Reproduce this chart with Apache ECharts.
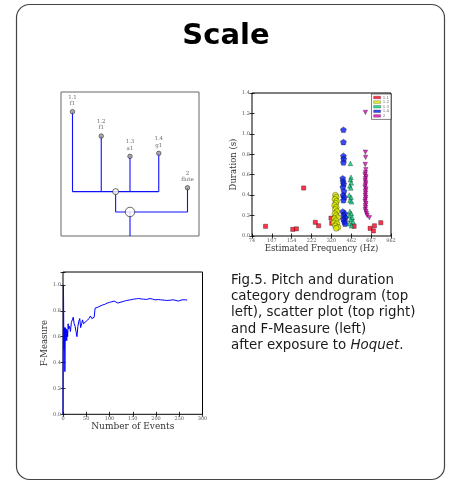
<!DOCTYPE html>
<html><head><meta charset="utf-8">
<script src="https://cdn.jsdelivr.net/npm/echarts@6/dist/echarts.min.js"></script>
<style>html,body{margin:0;padding:0;background:#fff}#c{width:451px;height:484px}</style>
</head><body><div id="c"></div>
<script>
// ---------- data ----------
const titleText = 'Scale';
const captionLines = ['Fig.5. Pitch and duration', 'category dendrogram (top', 'left), scatter plot (top right)', 'and F-Measure (left)', 'after exposure to '];
const captionItalic = 'Hoquet';

// dendrogram
const leafIds = ['1.1', '1.2', '1.3', '1.4', '2'];
const leafNotes = ['f1', 'f1', 'a1', 'g1', 'flute'];
const leafHeights = [8.63, 6.94, 5.53, 5.74, 3.35];
const clusterHeight = 3.08;
const rootHeight = 1.67;

// scatter: [frequency Hz, duration s]
const freqTicks = [74, 107, 154, 222, 320, 462, 667, 962];
const seriesNames = ['1.1', '1.2', '1.3', '1.4', '2'];
const cat11 = [[95,0.095],[157,0.065],[168,0.07],[192,0.47],[238,0.134],[253,0.1],[318,0.175],[322,0.125],[487,0.095],[654,0.075],[695,0.05],[708,0.1],[797,0.13]];
const cat12 = [[345,0.40],[350,0.38],[342,0.36],[352,0.34],[347,0.32],[340,0.30],[350,0.28],[345,0.26],[355,0.24],[342,0.22],[350,0.20],[360,0.18],[338,0.17],[348,0.15],[335,0.13],[355,0.12],[345,0.10],[362,0.085],[350,0.075]];
const cat13 = [[455,0.71],[460,0.575],[455,0.55],[462,0.52],[450,0.49],[458,0.47],[445,0.40],[460,0.38],[452,0.35],[465,0.335],[450,0.24],[462,0.22],[445,0.20],[470,0.18],[455,0.16],[478,0.14],[448,0.12],[465,0.10]];
const cat14 = [[400,1.04],[400,0.92],[400,0.785],[402,0.755],[400,0.72],[395,0.565],[398,0.535],[402,0.51],[396,0.48],[404,0.44],[398,0.40],[405,0.38],[400,0.35],[396,0.24],[410,0.22],[402,0.2],[415,0.18],[400,0.165],[408,0.14],[412,0.12]];
const cat2 = [[600,1.21],[600,0.82],[602,0.77],[598,0.70],[604,0.65],[600,0.62],[596,0.60],[606,0.58],[600,0.56],[598,0.54],[604,0.52],[600,0.50],[596,0.48],[606,0.46],[600,0.44],[602,0.42],[598,0.40],[604,0.38],[600,0.36],[596,0.34],[606,0.32],[600,0.30],[602,0.28],[598,0.26],[606,0.24],[612,0.22],[620,0.20],[646,0.18]];

// F-measure: [events, value]
const fMeasure = [[0,0.0],[1,1.0],[2,0.5],[3,0.67],[4,0.33],[5,0.67],[6,0.57],[7,0.66],[8,0.57],[9,0.65],[10,0.60],[11,0.70],[12,0.66],[14,0.68],[16,0.64],[18,0.71],[20,0.73],[22,0.75],[24,0.70],[26,0.68],[28,0.64],[30,0.60],[32,0.68],[34,0.72],[36,0.74],[38,0.67],[40,0.70],[42,0.73],[44,0.70],[46,0.69],[48,0.71],[50,0.72],[53,0.71],[56,0.74],[59,0.76],[62,0.74],[65,0.745],[67,0.75],[69,0.82],[72,0.83],[76,0.83],[80,0.835],[85,0.845],[90,0.85],[95,0.86],[100,0.865],[105,0.87],[110,0.875],[114,0.865],[118,0.86],[122,0.865],[127,0.87],[132,0.875],[137,0.88],[145,0.885],[152,0.89],[158,0.893],[163,0.895],[168,0.892],[173,0.89],[180,0.888],[187,0.895],[193,0.89],[198,0.885],[205,0.887],[210,0.885],[218,0.882],[223,0.88],[230,0.882],[237,0.885],[243,0.88],[248,0.875],[252,0.88],[256,0.885],[260,0.88],[263,0.885],[267,0.883]];

// ---------- build ----------
const SERIF = "'DejaVu Serif', serif";
const logSpan = Math.log(freqTicks[freqTicks.length - 1] / freqTicks[0]);
const fx = f => Math.log(f / freqTicks[0]) / logSpan * (freqTicks.length - 1);
const toXY = arr => arr.map(d => [fx(d[0]), d[1]]);

const clusterX = (0 + 1 + 2 + 3) / 4;
const rootX = (0 + 1 + 2 + 3 + 4) / 5;
const segs = [];
for (let i = 0; i < 4; i++) segs.push([[i, leafHeights[i]], [i, clusterHeight]]);
segs.push([[0, clusterHeight], [3, clusterHeight]]);
segs.push([[clusterX, clusterHeight], [clusterX, rootHeight]]);
segs.push([[clusterX, rootHeight], [4, rootHeight]]);
segs.push([[4, leafHeights[4]], [4, rootHeight]]);
segs.push([[rootX, rootHeight], [rootX, 0]]);

const tickIn = {show: true, inside: true, length: 2.5, lineStyle: {color: '#000', width: 0.8}};
const lblStyle = {fontSize: 5, color: '#555', fontFamily: SERIF};

function sideAxis(pos, grid, min, max, interval) {
  return {type: 'value', gridIndex: grid, position: pos, min, max, interval,
    axisLine: {show: false}, axisLabel: {show: false}, splitLine: {show: false}, axisTick: tickIn};
}

const chart = echarts.init(document.getElementById('c'), null, {renderer: 'canvas'});
const option = {
  animation: false,
  backgroundColor: '#fff',
  graphic: [
    {type: 'rect', shape: {x: 16.5, y: 4.5, width: 428, height: 475, r: 13}, style: {fill: 'none', stroke: '#444', lineWidth: 1.2}, z: -1},
    {type: 'text', x: 226, y: 36, style: {text: titleText, fontFamily: "'DejaVu Sans', sans-serif", fontWeight: 'bold', fontSize: 29, fill: '#000', textAlign: 'center', textVerticalAlign: 'middle'}},
    {type: 'text', x: 231, y: 272, style: {
      text: captionLines.slice(0, 4).map(l => '{n|' + l + '}').join('\n') + '\n{n|' + captionLines[4] + '}{i|' + captionItalic + '}{n|.}',
      rich: {
        n: {fontSize: 13.4, lineHeight: 16.3, fontFamily: "'DejaVu Sans', sans-serif", fill: '#1a1a1a'},
        i: {fontSize: 13.4, lineHeight: 16.3, fontFamily: "'DejaVu Sans', sans-serif", fontStyle: 'italic', fill: '#1a1a1a'}
      },
      textAlign: 'left', textVerticalAlign: 'top'}}
  ],
  legend: {
    orient: 'vertical', right: 60, top: 94, itemWidth: 7, itemHeight: 2.6, itemGap: 0.6,
    padding: [1.5, 2, 1.5, 2], borderColor: '#000', borderWidth: 0.5, backgroundColor: '#fff',
    icon: 'rect', data: seriesNames,
    itemStyle: {borderWidth: 0.3, borderColor: '#000'},
    textStyle: {fontSize: 4, lineHeight: 4, color: '#666', fontFamily: SERIF, padding: [0, 0, 0, -3]}
  },
  grid: [
    {left: 61, top: 92, width: 138, height: 144, show: true, borderColor: '#666', borderWidth: 1},
    {left: 252, top: 93, width: 139, height: 143, show: true, borderColor: '#000', borderWidth: 1},
    {left: 63, top: 272, width: 139.5, height: 142.3, show: true, borderColor: '#000', borderWidth: 1}
  ],
  xAxis: [
    {type: 'value', gridIndex: 0, min: -0.4, max: 4.4, show: false},
    {type: 'value', gridIndex: 1, min: 0, max: freqTicks.length - 1, interval: 1,
      axisLine: {show: false}, splitLine: {show: false}, axisTick: tickIn,
      axisLabel: Object.assign({margin: 2, formatter: v => freqTicks[Math.round(v)]}, lblStyle),
      name: 'Estimated Frequency (Hz)', nameLocation: 'middle', nameGap: 7,
      nameTextStyle: {fontSize: 8.5, color: '#333', fontFamily: SERIF}},
    sideAxis('top', 1, 0, freqTicks.length - 1, 1),
    {type: 'value', gridIndex: 2, min: 0, max: 300, interval: 50,
      axisLine: {show: false}, splitLine: {show: false}, axisTick: tickIn,
      axisLabel: Object.assign({margin: 2}, lblStyle),
      name: 'Number of Events', nameLocation: 'middle', nameGap: 7,
      nameTextStyle: {fontSize: 9, color: '#333', fontFamily: SERIF}},
    sideAxis('top', 2, 0, 300, 50)
  ],
  yAxis: [
    {type: 'value', gridIndex: 0, min: 0, max: 10, show: false},
    {type: 'value', gridIndex: 1, min: 0, max: 1.4, interval: 0.2,
      axisLine: {show: false}, splitLine: {show: false}, axisTick: tickIn,
      axisLabel: Object.assign({margin: 2, formatter: v => v.toFixed(1)}, lblStyle),
      name: 'Duration (s)', nameLocation: 'middle', nameGap: 11, nameRotate: 90,
      nameTextStyle: {fontSize: 8.5, color: '#333', fontFamily: SERIF}},
    sideAxis('right', 1, 0, 1.4, 0.2),
    {type: 'value', gridIndex: 2, min: 0, max: 1.1, interval: 0.2,
      axisLine: {show: false}, splitLine: {show: false}, axisTick: tickIn,
      axisLabel: Object.assign({margin: 2, formatter: v => v > 1.05 ? '' : v.toFixed(1)}, lblStyle),
      name: 'F-Measure', nameLocation: 'middle', nameGap: 9, nameRotate: 90,
      nameTextStyle: {fontSize: 8.5, color: '#333', fontFamily: SERIF}},
    sideAxis('right', 2, 0, 1.1, 0.2)
  ],
  series: [
    {type: 'lines', coordinateSystem: 'cartesian2d', xAxisIndex: 0, yAxisIndex: 0, polyline: true,
      lineStyle: {color: '#1010ff', width: 1.1, opacity: 1}, data: segs.map(c => ({coords: c})), z: 2, silent: true},
    {type: 'scatter', xAxisIndex: 0, yAxisIndex: 0, z: 3, symbol: 'circle', symbolSize: 4.5,
      itemStyle: {color: '#9a9a9a', borderColor: '#222', borderWidth: 0.7},
      label: {show: true, position: 'top', distance: 2.5,
        formatter: p => '{a|' + leafIds[p.dataIndex] + '}\n{a|' + leafNotes[p.dataIndex] + '}',
        rich: {a: {fontSize: 5.5, lineHeight: 6.2, color: '#444', fontFamily: SERIF, align: 'center'}}},
      data: leafHeights.map((h, i) => [i, h])},
    {type: 'scatter', xAxisIndex: 0, yAxisIndex: 0, z: 3, symbol: 'circle', symbolSize: 6,
      itemStyle: {color: '#fff', borderColor: '#111', borderWidth: 0.8}, data: [[clusterX, clusterHeight]]},
    {type: 'scatter', xAxisIndex: 0, yAxisIndex: 0, z: 3, symbol: 'circle', symbolSize: 9.5,
      itemStyle: {color: '#fff', borderColor: '#111', borderWidth: 0.8}, data: [[rootX, rootHeight]]},

    {name: '1.1', type: 'scatter', xAxisIndex: 1, yAxisIndex: 1, symbol: 'rect', symbolSize: 4.2,
      itemStyle: {color: '#ff0020', borderColor: '#000', borderWidth: 0.4}, data: toXY(cat11)},
    {name: '1.2', type: 'scatter', xAxisIndex: 1, yAxisIndex: 1, symbol: 'circle', symbolSize: 5.8,
      itemStyle: {color: '#dcec00', borderColor: '#000', borderWidth: 0.4}, data: toXY(cat12)},
    {name: '1.3', type: 'scatter', xAxisIndex: 1, yAxisIndex: 1, symbol: 'triangle', symbolSize: 4.6,
      itemStyle: {color: '#00d07c', borderColor: '#000', borderWidth: 0.4}, data: toXY(cat13)},
    {name: '1.4', type: 'scatter', xAxisIndex: 1, yAxisIndex: 1, symbol: 'path://M0,-10L9.51,-3.09L5.88,8.09L-5.88,8.09L-9.51,-3.09Z', symbolKeepAspect: true, symbolSize: 6,
      itemStyle: {color: '#0a1ef0', borderColor: '#000', borderWidth: 0.4}, data: toXY(cat14)},
    {name: '2', type: 'scatter', xAxisIndex: 1, yAxisIndex: 1, symbol: 'triangle', symbolRotate: 180, symbolSize: 4.4,
      itemStyle: {color: '#e000b8', borderColor: '#000', borderWidth: 0.4}, data: toXY(cat2)},

    {type: 'line', xAxisIndex: 3, yAxisIndex: 3, showSymbol: false, symbol: 'none',
      lineStyle: {color: '#0000ff', width: 1}, data: fMeasure}
  ]
};
chart.setOption(option);
</script>
</body></html>
